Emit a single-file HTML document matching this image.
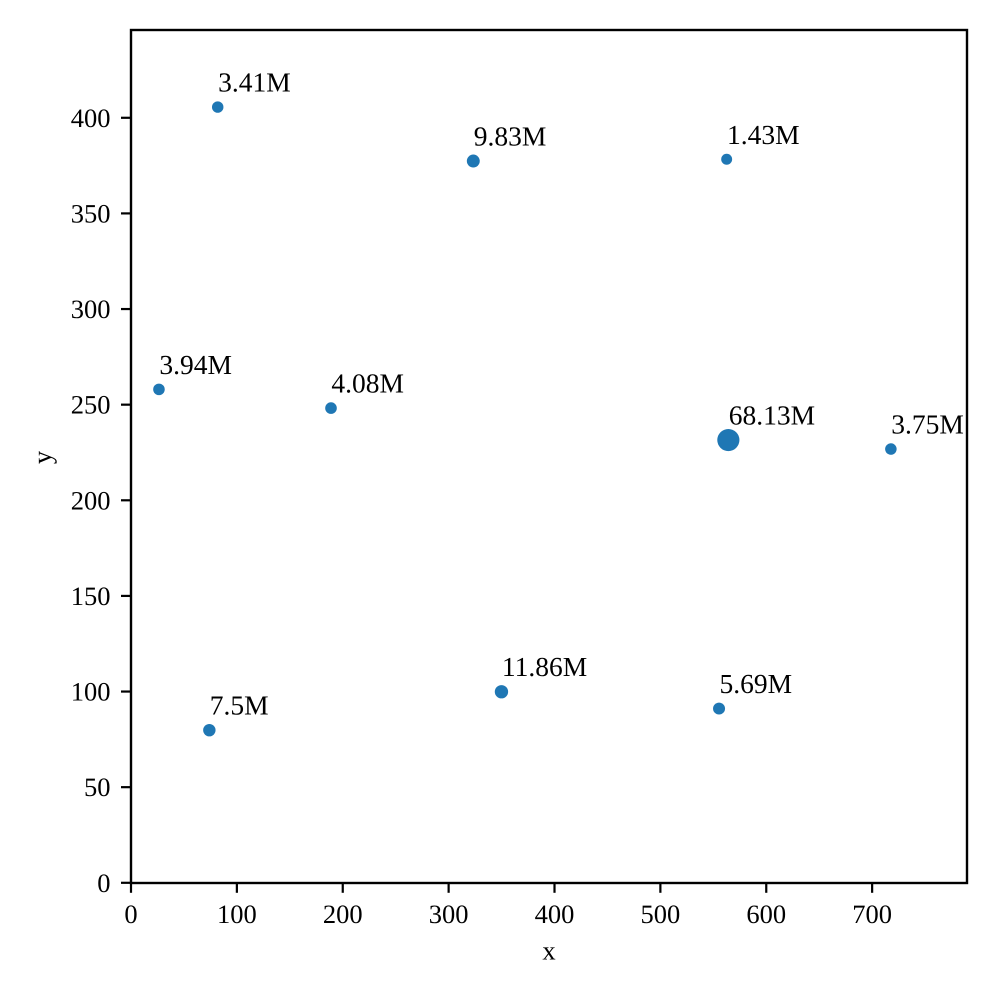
<!DOCTYPE html>
<html>
<head>
<meta charset="utf-8">
<style>
html,body{margin:0;padding:0;background:#fff;}
svg{display:block;}
text{font-family:"Liberation Serif","Times New Roman",serif;fill:#000;text-rendering:geometricPrecision;}
</style>
</head>
<body>
<svg id="chart" xmlns="http://www.w3.org/2000/svg" width="1000" height="1000" viewBox="0 0 1000 1000">
  <rect x="0" y="0" width="1000" height="1000" fill="#fff"/>
  <g id="marks"></g>
  <g id="labels"></g>
  <g id="xticks"></g>
  <g id="yticks"></g>
  <rect x="131" y="30" width="836" height="853" fill="none" stroke="#000" stroke-width="2.4"/>
  <text x="549" y="959.5" font-size="26.5" text-anchor="middle">x</text>
  <text transform="translate(51,457.5) rotate(-90)" font-size="26.5" text-anchor="middle">y</text>
</svg>
<script>
const xValues = [81.9, 323.3, 562.6, 26.4, 188.9, 564.2, 717.7, 74.0, 349.9, 555.4];
const yValues = [405.6, 377.4, 378.3, 258, 248.2, 231.5, 226.8, 79.8, 99.9, 91.1];
const sizeValues = [3.41, 9.83, 1.43, 3.94, 4.08, 68.13, 3.75, 7.5, 11.86, 5.69];
const pointLabels = ["3.41M", "9.83M", "1.43M", "3.94M", "4.08M", "68.13M", "3.75M", "7.5M", "11.86M", "5.69M"];
const xTickValues = [0, 100, 200, 300, 400, 500, 600, 700];
const yTickValues = [0, 50, 100, 150, 200, 250, 300, 350, 400];

const NS = 'http://www.w3.org/2000/svg';
const xMin = 0, xMax = 789.6, yMin = 0, yMax = 445.9;
const left = 131, right = 967, top_ = 30, bottom = 882.8;
function xScale(v) { return left + (v - xMin) / (xMax - xMin) * (right - left); }
function yScale(v) { return bottom - (v - yMin) / (yMax - yMin) * (bottom - top_); }
function rScale(v) { return Math.sqrt(28 + 1.39 * v); }

const marks = document.getElementById('marks');
const labels = document.getElementById('labels');
xValues.forEach(function (xv, i) {
  const cx = xScale(xv), cy = yScale(yValues[i]);
  const c = document.createElementNS(NS, 'circle');
  
  
  c.setAttribute('cx', cx);
  c.setAttribute('cy', cy);
  c.setAttribute('r', rScale(sizeValues[i]));
  c.setAttribute('fill', '#1f77b4');
  marks.appendChild(c);
  const t = document.createElementNS(NS, 'text');
  
  
  t.setAttribute('x', cx + 0.4);
  t.setAttribute('y', cy - 15.5);
  t.setAttribute('font-size', '27.5');
  t.textContent = pointLabels[i];
  labels.appendChild(t);
});

const xticks = document.getElementById('xticks');
xTickValues.forEach(function (v) {
  const x = xScale(v);
  const l = document.createElementNS(NS, 'line');
  
  
  l.setAttribute('x1', x);
  l.setAttribute('x2', x);
  l.setAttribute('y1', bottom);
  l.setAttribute('y2', bottom + 10);
  l.setAttribute('stroke', '#000');
  l.setAttribute('stroke-width', '2.2');
  xticks.appendChild(l);
  const t = document.createElementNS(NS, 'text');
  
  
  t.setAttribute('x', x);
  t.setAttribute('y', 923);
  t.setAttribute('font-size', '26.5');
  t.setAttribute('text-anchor', 'middle');
  t.textContent = String(v);
  xticks.appendChild(t);
});

const yticks = document.getElementById('yticks');
yTickValues.forEach(function (v) {
  const y = yScale(v);
  const l = document.createElementNS(NS, 'line');
  
  
  l.setAttribute('x1', left - 10);
  l.setAttribute('x2', left);
  l.setAttribute('y1', y);
  l.setAttribute('y2', y);
  l.setAttribute('stroke', '#000');
  l.setAttribute('stroke-width', '2.2');
  yticks.appendChild(l);
  const t = document.createElementNS(NS, 'text');
  
  
  t.setAttribute('x', 110.5);
  t.setAttribute('y', y + 9);
  t.setAttribute('font-size', '26.5');
  t.setAttribute('text-anchor', 'end');
  t.textContent = String(v);
  yticks.appendChild(t);
});
</script>
</body>
</html>
